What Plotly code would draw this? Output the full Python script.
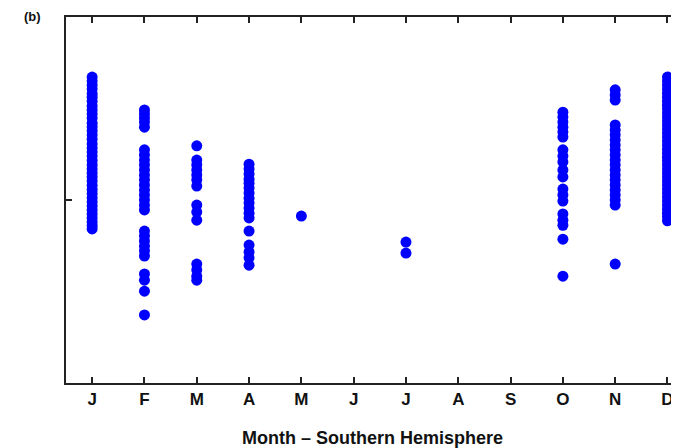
import plotly.graph_objects as go

month_labels = ["J", "F", "M", "A", "M", "J", "J", "A", "S", "O", "N", "D"]

jan_vals = [83.6, 82.5, 81.4, 80.3, 79.0, 78.1, 77.0, 75.7, 74.6, 73.5, 72.4, 71.0, 70.0,
            68.9, 67.8, 66.6, 65.3, 64.2, 63.1, 62.0, 60.8, 59.6, 58.5, 57.4, 56.3, 55.2,
            54.0, 52.9, 51.8, 50.6, 49.5, 48.4, 47.3, 46.2, 45.1, 44.0, 43.0, 42.1]
feb_vals = [74.6, 73.5, 72.4, 71.3, 69.9, 63.7, 62.3, 60.9, 59.6, 58.2, 56.8, 55.5, 54.1,
            52.7, 51.4, 50.0, 48.6, 47.3, 41.5, 40.2, 38.8, 37.4, 36.1, 34.7, 29.8, 28.1,
            25.1, 18.6]
mar_vals = [64.8, 60.9, 59.6, 58.2, 56.8, 55.5, 53.8, 48.6, 46.7, 44.5, 32.5, 30.9, 29.2, 28.1]
apr_vals = [59.8, 58.5, 57.1, 55.7, 54.6, 53.3, 51.9, 50.5, 49.2, 47.8, 46.4, 45.1, 41.5,
            37.7, 35.8, 34.2, 32.2]
may_vals = [45.6]
jun_vals = []
jul_vals = [38.5, 35.5]
aug_vals = []
sep_vals = []
oct_vals = [74.0, 72.7, 71.3, 69.9, 68.6, 67.2, 63.7, 62.0, 60.4, 58.2, 56.3, 53.0, 51.4,
            49.7, 46.2, 44.5, 43.1, 39.3, 29.2]
nov_vals = [80.1, 78.7, 77.3, 70.5, 69.1, 67.8, 66.4, 65.0, 63.7, 62.3, 60.9, 59.6, 58.2,
            56.8, 55.5, 54.1, 52.7, 51.4, 50.0, 48.6, 32.5]
dec_vals = [83.6, 82.5, 81.4, 80.3, 79.2, 78.1, 77.0, 75.9, 74.9, 73.8, 72.7, 71.6, 70.5,
            69.4, 68.3, 67.2, 66.1, 65.0, 63.9, 62.8, 61.7, 60.7, 59.6, 58.5, 57.4, 56.3,
            55.2, 54.1, 53.0, 51.9, 50.8, 49.7, 48.6, 47.5, 46.4, 45.4, 44.3]

all_months = [jan_vals, feb_vals, mar_vals, apr_vals, may_vals, jun_vals, jul_vals,
              aug_vals, sep_vals, oct_vals, nov_vals, dec_vals]

xs, ys = [], []
for i, vals in enumerate(all_months):
    for v in vals:
        xs.append(i + 1)
        ys.append(v)

fig = go.Figure()
fig.add_trace(go.Scatter(
    x=xs, y=ys, mode="markers",
    marker=dict(color="#0000ff", size=11, line=dict(width=0)),
    showlegend=False, hoverinfo="skip", cliponaxis=False,
))

axis_font = dict(family="Liberation Sans, Arial, sans-serif", size=17, color="#111", weight="bold")
title_font = dict(family="Liberation Sans, Arial, sans-serif", size=18, color="#111", weight="bold")

# page body has a default 8px margin; figure sized so it ends at the window edge
fig.update_layout(
    width=671, height=440,
    margin=dict(l=58, r=0, t=9, b=65),
    paper_bgcolor="white", plot_bgcolor="white",
    xaxis=dict(
        range=[0.5, 12.22],
        tickvals=list(range(1, 13)), ticktext=month_labels,
        ticks="inside", ticklen=6, tickwidth=1.5, tickcolor="#222",
        showline=True, linecolor="#222", linewidth=2, mirror="ticks",
        showgrid=False, zeroline=False,
        tickfont=axis_font,
        title=dict(text="Month – Southern Hemisphere", font=title_font, standoff=25),
    ),
    yaxis=dict(
        range=[0, 100],
        tickvals=[50], ticktext=[""],
        ticks="inside", ticklen=6, tickwidth=1.5, tickcolor="#222",
        showline=True, linecolor="#222", linewidth=2, mirror=False,
        showgrid=False, zeroline=False, showticklabels=False,
    ),
    annotations=[dict(
        text="(b)", x=-44/613, y=1 + 1/366, xref="paper", yref="paper",
        xanchor="left", yanchor="middle", showarrow=False,
        font=dict(family="Liberation Sans, Arial, sans-serif", size=13,
                  color="#111", weight="bold"),
    )],
)

fig.write_html("out.html")
